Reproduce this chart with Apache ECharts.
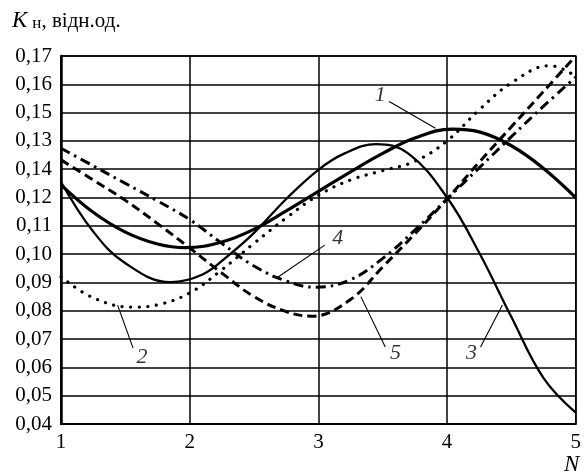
<!DOCTYPE html>
<html>
<head>
<meta charset="utf-8">
<script src="https://cdn.jsdelivr.net/npm/echarts@6/dist/echarts.min.js"></script>
<style>html,body{margin:0;padding:0;background:#fff}#c{width:584px;height:476px}</style>
</head>
<body>
<div id="c"></div>
<script>
// Data
var xTicks = ['1','2','3','4','5'];
var yTickLabels = ['0,04','0,05','0,06','0,07','0,08','0,09','0,10','0,11','0,12','0,14','0,13','0,15','0,16','0,17'];

var curve1 = [[1,0.1245],[1.25,0.1148],[1.5,0.1078],[1.75,0.1036],[1.97,0.1023],[2.25,0.1043],[2.5,0.1088],[2.75,0.1153],[3,0.1222],[3.25,0.1291],[3.5,0.1356],[3.75,0.1410],[4.04,0.1442],[4.25,0.1432],[4.5,0.1383],[4.75,0.1303],[5,0.1200]];
var curve2 = [[1,0.0920],[1.25,0.0846],[1.55,0.0813],[1.75,0.0821],[2,0.0863],[2.25,0.0945],[2.5,0.1038],[2.75,0.1128],[3,0.1208],[3.25,0.1262],[3.5,0.1295],[3.75,0.1328],[4,0.1400],[4.25,0.1510],[4.5,0.1605],[4.8,0.1666],[5,0.1628]];
var curve3 = [[1,0.1255],[1.25,0.1080],[1.5,0.0968],[1.85,0.0901],[2.1,0.0928],[2.3,0.0995],[2.5,0.1075],[2.75,0.1195],[3,0.1298],[3.2,0.1355],[3.45,0.1389],[3.7,0.1355],[4,0.1200],[4.25,0.1005],[4.5,0.0778],[4.75,0.0562],[5,0.0440]];
var curve4 = [[1,0.1374],[1.25,0.1312],[1.5,0.1250],[1.75,0.1188],[2,0.1122],[2.25,0.1038],[2.5,0.0958],[2.75,0.0905],[2.98,0.0883],[3.25,0.0910],[3.5,0.0985],[3.75,0.1085],[4,0.1195],[4.25,0.1305],[4.5,0.1415],[4.75,0.1523],[5,0.1625]];
var curve5 = [[1,0.1333],[1.25,0.1262],[1.5,0.1190],[1.75,0.1108],[2,0.1022],[2.25,0.0933],[2.5,0.0850],[2.75,0.0797],[2.95,0.0781],[3.25,0.0840],[3.5,0.0955],[3.75,0.1072],[4,0.1195],[4.25,0.1325],[4.5,0.1450],[4.75,0.1575],[5,0.1700]];

// Curve number labels and leader lines (data coordinates)
var curveLabels = [
  {name:'1', value:[3.48,0.1562]},
  {name:'2', value:[1.63,0.0636]},
  {name:'3', value:[4.19,0.0651]},
  {name:'4', value:[3.15,0.1057]},
  {name:'5', value:[3.60,0.0651]}
];
var leaders = [
  [[3.55,0.1539],[3.91,0.1445]],
  [[1.56,0.0668],[1.44,0.0820]],
  [[4.26,0.0672],[4.43,0.0820]],
  [[3.05,0.1032],[2.67,0.0914]],
  [[3.52,0.0672],[3.33,0.0850]]
];

var FONT = 'Liberation Serif';
var chart = echarts.init(document.getElementById('c'));

var SM = 0.4;
var series = [
  {type:'line', data:curve1, smooth:SM, symbol:'none', lineStyle:{color:'#000', width:3.2}},
  {type:'line', data:curve2, smooth:SM, symbol:'none', lineStyle:{color:'#000', width:3.2, type:[0.1,8.5], cap:'round'}},
  {type:'line', data:curve3, smooth:SM, symbol:'none', lineStyle:{color:'#000', width:2.3}},
  {type:'line', data:curve4, smooth:SM, symbol:'none', lineStyle:{color:'#000', width:3, type:[10,5,2.5,5]}},
  {type:'line', data:curve5, smooth:SM, symbol:'none', lineStyle:{color:'#000', width:3, type:[9,5]}}
];
leaders.forEach(function(l){
  series.push({type:'line', data:l, symbol:'none', silent:true, lineStyle:{color:'#000', width:1.1}});
});
series.push({
  type:'scatter', data:curveLabels, symbolSize:0, silent:true,
  label:{show:true, position:'inside', formatter:'{b}', color:'#000', fontFamily:FONT, fontStyle:'italic', fontSize:22}
});

chart.setOption({
  animation:false,
  backgroundColor:'#fff',
  grid:{left:61, right:7, top:56, bottom:52, show:true, borderColor:'#000', borderWidth:1.5, backgroundColor:'transparent'},
  xAxis:{
    type:'value', min:1, max:5, interval:1,
    axisLine:{show:true, lineStyle:{color:'#000', width:2}},
    axisTick:{show:false},
    axisLabel:{color:'#000', fontFamily:FONT, fontSize:21, margin:8, formatter:function(v){return xTicks[Math.round(v-1)];}},
    splitLine:{show:true, lineStyle:{color:'#000', width:1.5}}
  },
  yAxis:{
    type:'value', min:0.04, max:0.17, interval:0.01,
    axisLine:{show:true, lineStyle:{color:'#000', width:2.5}},
    axisTick:{show:false},
    axisLabel:{color:'#000', fontFamily:FONT, fontSize:21, margin:9, formatter:function(v){return yTickLabels[Math.round((v-0.04)/0.01)];}},
    splitLine:{show:true, lineStyle:{color:'#000', width:1.5}}
  },
  graphic:[
    {type:'text', left:12, top:9, style:{
      text:'{k|K}{s|н}{t|, відн.од.}',
      rich:{
        k:{fontFamily:FONT, fontStyle:'italic', fontSize:23, fill:'#000', verticalAlign:'bottom'},
        s:{fontFamily:FONT, fontSize:17, fill:'#000', padding:[12,0,0,5], verticalAlign:'bottom'},
        t:{fontFamily:FONT, fontSize:21, fill:'#000', verticalAlign:'bottom'}
      }
    }},
    {type:'text', left:564, top:453, style:{text:'N', fontFamily:FONT, fontStyle:'italic', fontSize:23, fill:'#000'}}
  ],
  series:series
});
</script>
</body>
</html>
